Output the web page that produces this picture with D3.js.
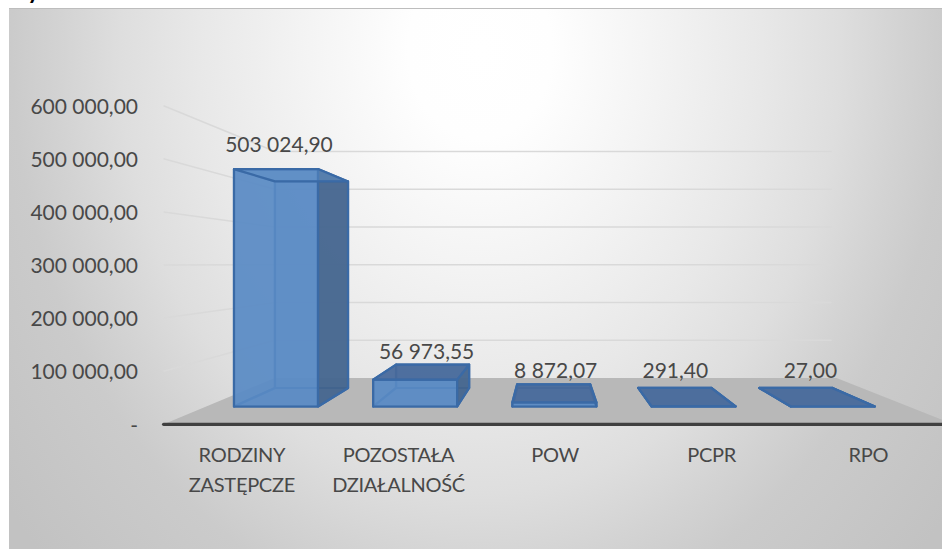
<!DOCTYPE html>
<html>
<head>
<meta charset="utf-8">
<script src="https://cdn.jsdelivr.net/npm/d3@7"></script>
<style>
  html, body { margin: 0; padding: 0; background: #fff; }
  svg { display: block; }
  text { font-family: Lato, "Open Sans", sans-serif; fill: #484848; }
</style>
</head>
<body>
<svg width="942" height="549"></svg>
<script>
var categories = [["RODZINY", "ZASTĘPCZE"], ["POZOSTAŁA", "DZIAŁALNOŚĆ"], ["POW"], ["PCPR"], ["RPO"]];
var values = [503024.90, 56973.55, 8872.07, 291.40, 27.00];
var valueLabels = ["503 024,90", "56 973,55", "8 872,07", "291,40", "27,00"];
var yTicks = [0, 100000, 200000, 300000, 400000, 500000, 600000];
var yTickLabels = ["-", "100 000,00", "200 000,00", "300 000,00", "400 000,00", "500 000,00", "600 000,00"];

// hand placed data labels, relative to the back top edge of each bar
var labelNudge = [[-32.5, -29.5], [-6, -5.6], [2, -6.5], [0.5, -10], [14.5, -10]];

var svg = d3.select("svg");
var defs = svg.append("defs");

var bg = defs.append("radialGradient")
  .attr("id", "bg")
  .attr("gradientUnits", "userSpaceOnUse")
  .attr("cx", 0).attr("cy", 0).attr("r", 1)
  .attr("gradientTransform", "translate(480,50) scale(600,740)");
[[0, "#ffffff"], [0.12, "#fefefe"], [0.3, "#f3f3f3"], [0.47, "#e8e8e8"], [0.6, "#dedede"],
 [0.7, "#d3d3d3"], [0.78, "#cbcbcb"], [1, "#c2c2c2"]].forEach(function(s) {
  bg.append("stop").attr("offset", s[0]).attr("stop-color", s[1]);
});

svg.append("rect")
  .attr("x", 9).attr("y", 8).attr("width", 933).attr("height", 541)
  .attr("fill", "url(#bg)");
svg.append("line")
  .attr("x1", 9).attr("x2", 942).attr("y1", 8.5).attr("y2", 8.5)
  .attr("stroke", "#bdbdbd").attr("stroke-width", 1);

// what is left of the cut off title above the chart
svg.append("text")
  .attr("x", 26).attr("y", -3.5)
  .attr("font-size", "32px")
  .style("fill", "#000")
  .text("y");

// scales live on the plane of the bar fronts, project() pushes them back or forward
var x = d3.scaleBand()
  .domain(d3.range(categories.length))
  .range([206.4, 902.4])
  .paddingInner(0.3966)
  .paddingOuter(0.1983);

var y = d3.scaleLinear()
  .domain([0, 600000])
  .range([406.5, 123.3]);

var vx = 549, vy = 264;
var planeFloorFront = 1.125, planeBarFront = 1, planeBarBack = 0.87, planeWall = 0.8;

function project(fx, fy, s) {
  return [vx + (fx - vx) * s, vy + (fy - vy) * s];
}
var line = d3.line();

var xMin = x.range()[0], xMax = x.range()[1];

// floor
svg.append("path")
  .attr("d", line([
    project(xMin, y(0), planeFloorFront),
    project(xMin, y(0), planeWall),
    project(xMax + 6, y(0), planeWall),
    project(xMax + 6, y(0), planeFloorFront)
  ]) + "Z")
  .attr("fill", "#b8b8b8");

// gridlines on the side wall and the back wall
yTicks.slice(1).forEach(function(t) {
  svg.append("path")
    .attr("d", line([
      project(xMin, y(t), planeFloorFront),
      project(xMin, y(t), planeWall),
      project(xMax, y(t), planeWall)
    ]))
    .attr("fill", "none")
    .attr("stroke", "#d9d9d9")
    .attr("stroke-width", 1.5);
});

// front edge of the floor
svg.append("line")
  .attr("x1", project(xMin, y(0), planeFloorFront)[0])
  .attr("x2", 945)
  .attr("y1", project(xMin, y(0), planeFloorFront)[1])
  .attr("y2", project(xMin, y(0), planeFloorFront)[1])
  .attr("stroke", "#404040")
  .attr("stroke-width", 3.2)
  .attr("stroke-linecap", "round");

// bars
var bars = svg.selectAll("g.bar")
  .data(values)
  .enter()
  .append("g")
  .attr("class", "bar")
  .attr("stroke", "#3a6aa6")
  .attr("stroke-width", 2.2)
  .attr("stroke-linejoin", "round");

function face(sel, corners, fill, alpha) {
  sel.append("path")
    .attr("d", function(d, i) { return line(corners(d, i)) + "Z"; })
    .attr("fill", fill)
    .attr("fill-opacity", alpha);
}
function cx0(i) { return x(i); }
function cx1(i) { return x(i) + x.bandwidth(); }

// back, left and floor faces stay see-through
face(bars, function(d, i) {
  return [project(cx0(i), y(0), planeBarBack), project(cx1(i), y(0), planeBarBack),
          project(cx1(i), y(d), planeBarBack), project(cx0(i), y(d), planeBarBack)];
}, "#5b8cc6", 0.55);
face(bars, function(d, i) {
  return [project(cx0(i), y(0), planeBarFront), project(cx0(i), y(0), planeBarBack),
          project(cx0(i), y(d), planeBarBack), project(cx0(i), y(d), planeBarFront)];
}, "#5b8cc6", 0.3);
face(bars, function(d, i) {
  return [project(cx0(i), y(0), planeBarFront), project(cx1(i), y(0), planeBarFront),
          project(cx1(i), y(0), planeBarBack), project(cx0(i), y(0), planeBarBack)];
}, "#5b8cc6", 0.5);
face(bars, function(d, i) {
  return [project(cx0(i), y(0), planeBarFront), project(cx1(i), y(0), planeBarFront),
          project(cx1(i), y(d), planeBarFront), project(cx0(i), y(d), planeBarFront)];
}, "#5a8bc4", 0.9);
face(bars, function(d, i) {
  return [project(cx1(i), y(0), planeBarFront), project(cx1(i), y(0), planeBarBack),
          project(cx1(i), y(d), planeBarBack), project(cx1(i), y(d), planeBarFront)];
}, "#44648c", 0.9);

// a top above eye level is seen from under, so it reads like the front face
bars.append("path")
  .attr("d", function(d, i) {
    return line([project(cx0(i), y(d), planeBarFront), project(cx1(i), y(d), planeBarFront),
                 project(cx1(i), y(d), planeBarBack), project(cx0(i), y(d), planeBarBack)]) + "Z";
  })
  .attr("fill", function(d) { return y(d) < vy ? "#5a8bc4" : "#48699a"; })
  .attr("fill-opacity", function(d) { return y(d) < vy ? 0.5 : 0.92; });

// data labels
svg.selectAll("text.value")
  .data(values)
  .enter()
  .append("text")
  .attr("class", "value")
  .attr("text-anchor", "middle")
  .attr("font-size", "21px")
  .attr("x", function(d, i) {
    return project(x(i) + x.bandwidth() / 2, y(d), planeBarBack)[0] + labelNudge[i][0];
  })
  .attr("y", function(d, i) {
    return project(x(i), y(d), planeBarBack)[1] + labelNudge[i][1];
  })
  .text(function(d, i) { return valueLabels[i]; });

// value axis, on the front edge of the side wall
var yFront = d3.scaleLinear()
  .domain(y.domain())
  .range(y.range().map(function(r) { return project(0, r, planeFloorFront)[1]; }));

var yAxis = svg.append("g")
  .attr("transform", "translate(138,1)")
  .call(d3.axisLeft(yFront)
    .tickValues(yTicks)
    .tickSize(0)
    .tickPadding(0)
    .tickFormat(function(d, i) { return yTickLabels[i]; }));
yAxis.select(".domain").remove();
yAxis.selectAll("text")
  .attr("font-size", "21px")
  .style("font-family", "Lato, 'Open Sans', sans-serif");

// category labels, centred under the bars on the floor edge
svg.selectAll("text.cat")
  .data(categories)
  .enter()
  .append("text")
  .attr("class", "cat")
  .attr("text-anchor", "middle")
  .attr("font-size", "20px")
  .attr("letter-spacing", "-0.3px")
  .attr("y", 461.7)
  .each(function(d, i) {
    var cx = project(x(i) + x.bandwidth() / 2, 0, planeFloorFront)[0];
    d3.select(this).selectAll("tspan")
      .data(d)
      .enter()
      .append("tspan")
      .attr("x", cx)
      .attr("dy", function(t, j) { return j ? 30 : 0; })
      .text(function(t) { return t; });
  });
</script>
</body>
</html>
